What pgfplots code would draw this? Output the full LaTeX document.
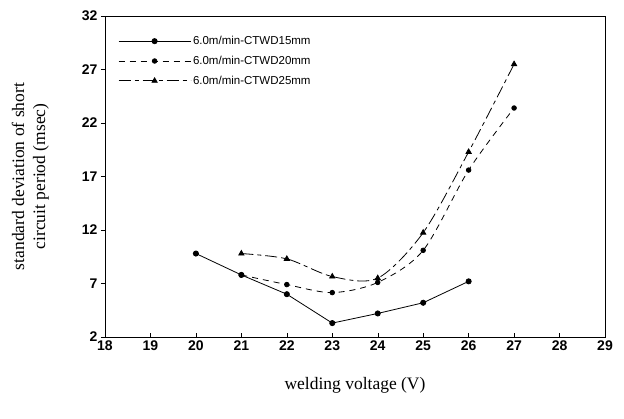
\documentclass[border=0pt]{standalone}
\usepackage{pgfplots}
\pgfplotsset{compat=1.18}
\usepackage{fontspec}
\setmainfont{Liberation Serif}
\newfontfamily\arial{Liberation Sans}
\begin{document}
\begin{tikzpicture}[x=1pt,y=1pt]
\useasboundingbox (-105,-82) rectangle (519,337);
\begin{axis}[
  at={(0,0)}, anchor=south west,
  scale only axis, width=500pt, height=321pt,
  xmin=18, xmax=29, ymin=2, ymax=32,
  xtick={18,...,29}, ytick={2,7,12,17,22,27,32},
  xtick pos=bottom, ytick pos=left,
  /pgf/number format/assume math mode=true,
  ticklabel style={font=\arial\bfseries\fontsize{14}{15}\selectfont},
  xtick align=inside, ytick align=outside,
  tick style={black, thin},
  major tick length=4pt,
  axis line style={black, line width=0.9pt},
  xlabel={welding voltage (V)},
  ylabel={standard deviation of short\\circuit period (msec)},
  ylabel style={align=center, font=\fontsize{17.5}{21}\selectfont, at={(axis description cs:-0.105,0.5)}},
  xlabel style={font=\fontsize{17.5}{20}\selectfont, at={(axis description cs:0.5,-0.115)}},
  legend style={at={(0.02,0.95)}, anchor=north west, draw=none, fill=none,
    font=\arial\fontsize{11.5}{12}\selectfont, row sep=6pt},
  legend cell align=left,
  legend image code/.code={
    \draw[#1] (0pt,0pt) -- (72pt,0pt);
    \draw[#1, only marks] plot coordinates {(36pt,0pt)};
  },
]
\addplot[black, line width=0.8pt, mark=*, mark size=2.6pt] coordinates {
(20,9.8) (21,7.8) (22,6.0) (23,3.3) (24,4.2) (25,5.2) (26,7.2)};
\addlegendentry{6.0m/min-CTWD15mm}
\addplot[black, line width=0.8pt, dash pattern=on 6pt off 5pt, smooth, mark=*, mark size=2.3pt, mark options={solid}] coordinates {
(21,7.8) (22,6.9) (23,6.15) (24,7.1) (25,10.1) (26,17.6) (27,23.4)};
\addlegendentry{6.0m/min-CTWD20mm}
\addplot[black, line width=0.8pt, dash pattern=on 12pt off 4pt on 4pt off 4pt, smooth, mark=triangle*, mark size=3pt, mark options={solid}] coordinates {
(21,9.8) (22,9.3) (23,7.65) (24,7.5) (25,11.75) (26,19.3) (27,27.5)};
\addlegendentry{6.0m/min-CTWD25mm}
\end{axis}
\end{tikzpicture}
\end{document}
